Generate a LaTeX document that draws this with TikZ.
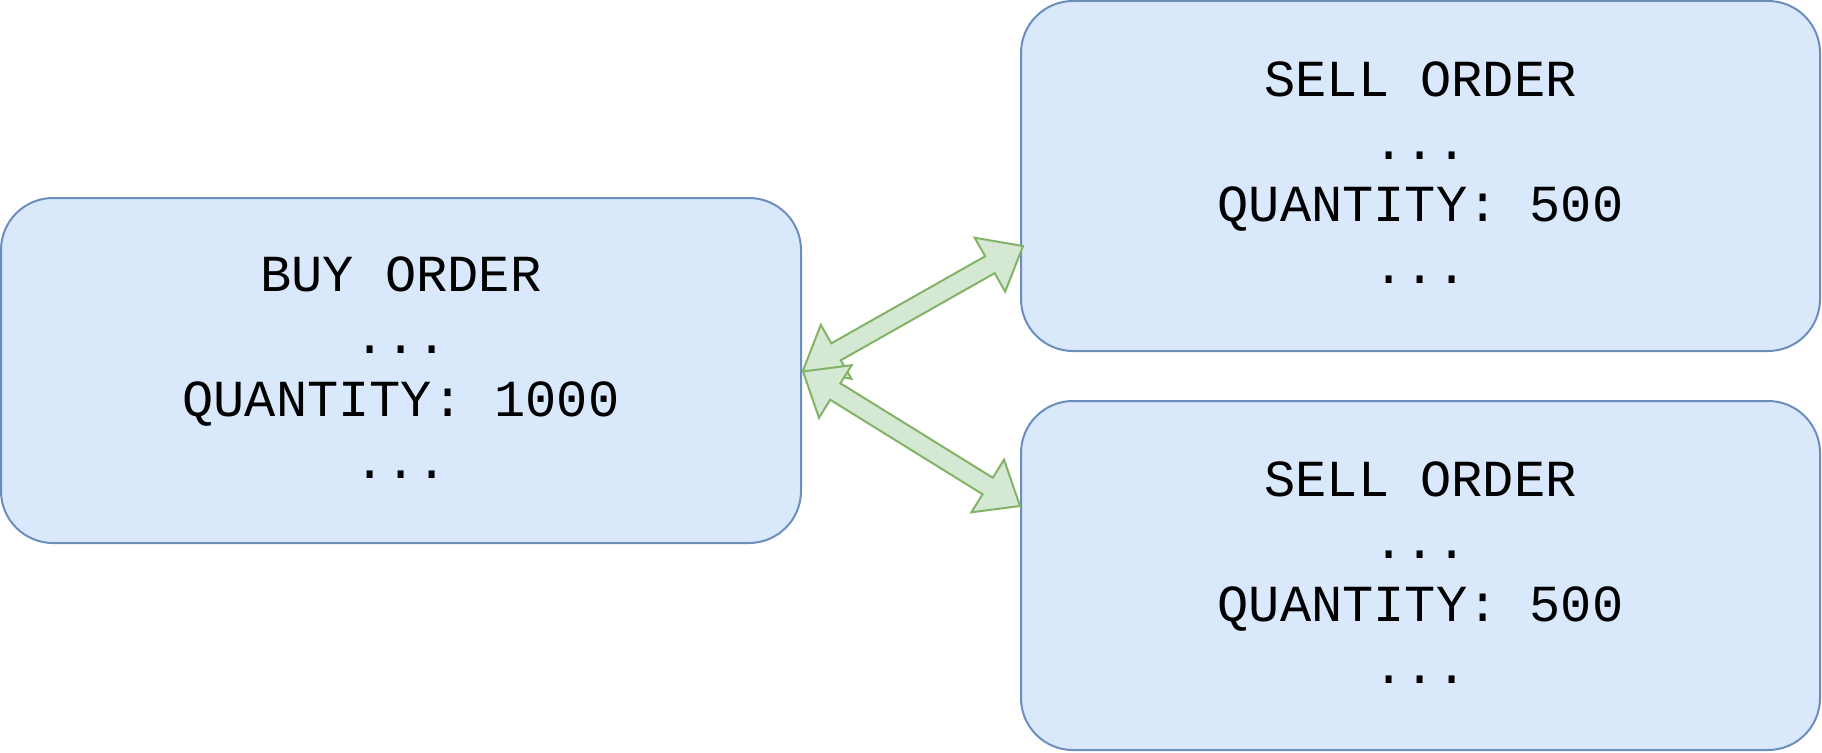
\documentclass[tikz,border=0pt]{standalone}
\usepackage{fontspec}
\newfontfamily\boxfont{Liberation Mono}
\usetikzlibrary{calc}
\definecolor{boxfill}{HTML}{DAE8FC}
\definecolor{boxline}{HTML}{6C8EBF}
\definecolor{arrfill}{HTML}{D5E8D4}
\definecolor{arrline}{HTML}{82B366}
% double flex arrow between coordinates #1 and #2, helper prefix #3
\newcommand\dflexarrow[3]{%
  \coordinate (#3a) at ($(#1)!38pt!(#2)$);
  \coordinate (#3b) at ($(#2)!38pt!(#1)$);
  \filldraw[flexarrow]
    (#1) -- ($(#3a)!31pt!90:(#2)$) -- ($(#3a)!9.7pt!90:(#2)$)
    -- ($(#3b)!9.7pt!-90:(#1)$) -- ($(#3b)!31pt!-90:(#1)$)
    -- (#2)
    -- ($(#3b)!31pt!90:(#1)$) -- ($(#3b)!9.7pt!90:(#1)$)
    -- ($(#3a)!9.7pt!-90:(#2)$) -- ($(#3a)!31pt!-90:(#2)$)
    -- cycle;
}
\newcommand\lastdepth{\rule[-6pt]{0pt}{6pt}}
\begin{document}
\begin{tikzpicture}[x=1pt,y=-1pt,
  orderbox/.style={draw=boxline, fill=boxfill, line width=2pt,
    rounded corners=52pt, inner sep=0pt, align=center, text=black,
    font=\boxfont\fontsize{52}{62.4}\selectfont},
  flexarrow/.style={draw=arrline, fill=arrfill, line width=2pt, line join=miter}]
\useasboundingbox (0,0) rectangle (1822,752);
\node[orderbox, minimum width=800pt, minimum height=345pt] (buy) at (401,370.5)
  {BUY ORDER\\...\\QUANTITY: 1000\\...\lastdepth};
\node[orderbox, minimum width=799pt, minimum height=350pt] (sell1) at (1420.5,176)
  {SELL ORDER\\...\\QUANTITY: 500\\...\lastdepth};
\node[orderbox, minimum width=799pt, minimum height=349pt] (sell2) at (1420.5,575.5)
  {SELL ORDER\\...\\QUANTITY: 500\\...\lastdepth};
\coordinate (a1s) at ($(buy.east)+(1,0)$);
\coordinate (a1e) at ($(sell1.west)+(3,70)$);
\coordinate (a2s) at ($(buy.east)+(1,1)$);
\coordinate (a2e) at ($(sell2.west)+(0,-69.5)$);
\dflexarrow{a1s}{a1e}{fx}
\dflexarrow{a2s}{a2e}{fy}
\end{tikzpicture}
\end{document}
